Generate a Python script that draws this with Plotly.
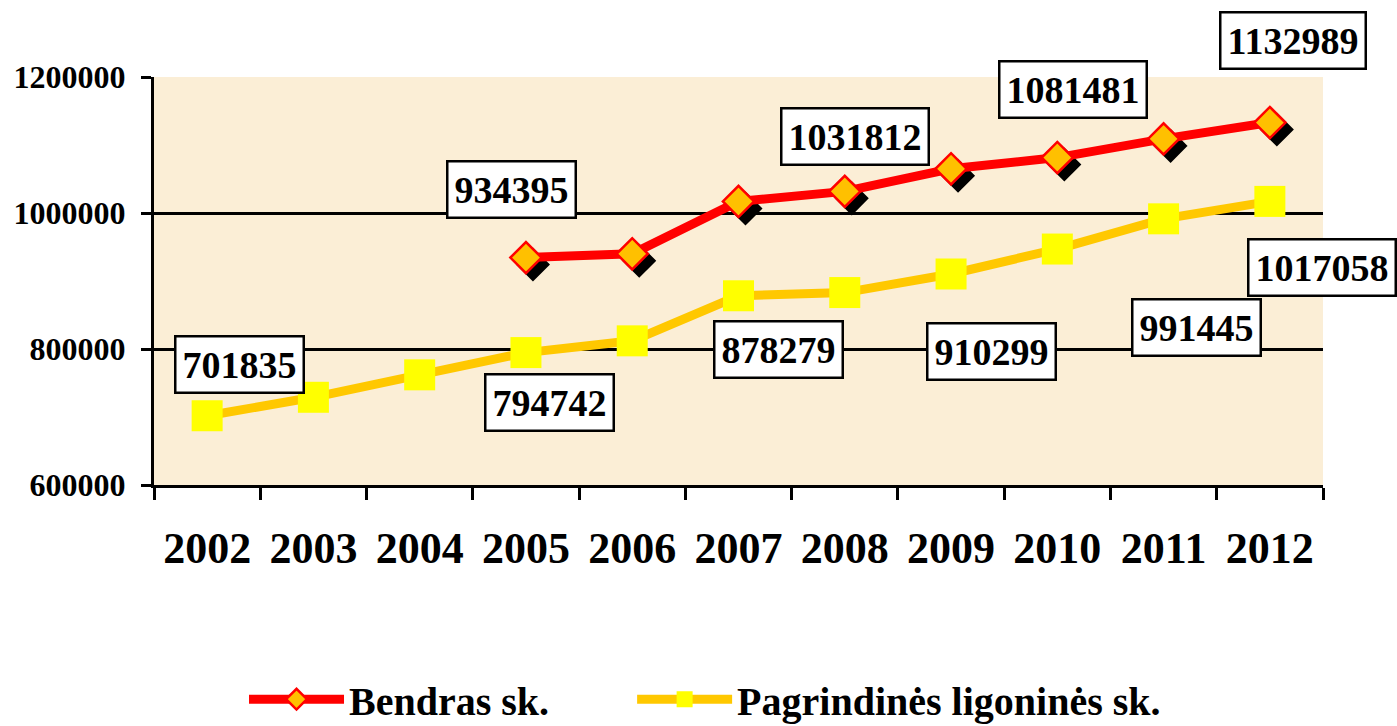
import plotly.graph_objects as go

years = ["2002", "2003", "2004", "2005", "2006", "2007", "2008", "2009", "2010", "2011", "2012"]
bendras = [None, None, None, 934395, 940000, 1017000, 1031812, 1065000, 1081481, 1109000, 1132989]
pagrindines = [701835, 729000, 762000, 794742, 812000, 878279, 883000, 910299, 947000, 991445, 1017058]
y_ticks = [600000, 800000, 1000000, 1200000]

bendras_label_years = ["2005", "2008", "2010", "2012"]
pagr_label_years = ["2002", "2005", "2007", "2009", "2011", "2012"]

# label offsets in pixels (style only)
bendras_offsets = {"2005": (-14, 68), "2008": (10, 55), "2010": (16, 68), "2012": (23, 82)}
pagr_offsets = {"2002": (32, 51), "2005": (24, -50), "2007": (40, -54), "2009": (40, -77),
                "2011": (33, -109), "2012": (52, -66)}

FONT = "Liberation Serif"
W, H = 1397, 726
L, R, T, B = 154, 74, 77, 241
plot_w = W - L - R
plot_h = H - T - B
n = len(years)
ymin, ymax = y_ticks[0], y_ticks[-1]
sh_px = 7
dx_cat = sh_px * n / plot_w
dy_val = sh_px * (ymax - ymin) / plot_h

fig = go.Figure()

fig.add_trace(go.Scatter(
    x=years, y=pagrindines, mode="lines+markers", name="Pagrindinės ligoninės sk.",
    line=dict(color="#FFC800", width=9),
    marker=dict(symbol="square", size=31, color="#FFFF00", line=dict(width=0)),
    xaxis="x", yaxis="y", legend="legend2",
))

# shadow of diamonds
fig.add_trace(go.Scatter(
    x=list(range(n)), y=bendras, mode="markers", showlegend=False, hoverinfo="skip",
    marker=dict(symbol="diamond", size=24, color="black", line=dict(width=2, color="black")),
    xaxis="x2", yaxis="y2",
))

fig.add_trace(go.Scatter(
    x=years, y=bendras, mode="lines+markers", name="Bendras sk.",
    line=dict(color="#FF0000", width=9),
    marker=dict(symbol="diamond", size=24, color="#FFC000", line=dict(width=2.5, color="#FF0000")),
    xaxis="x3", yaxis="y3", legend="legend",
))

label_font = dict(family=FONT, size=38, color="black", weight="bold")
annotations = []
for yr in bendras_label_years:
    i = years.index(yr)
    v = bendras[i]
    ox, oy = bendras_offsets[yr]
    annotations.append(dict(x=i, y=v, xref="x", yref="y", text=str(v), showarrow=False,
                            xshift=ox, yshift=oy, bgcolor="white", bordercolor="black",
                            borderwidth=2.5, borderpad=6, font=label_font))
for yr in pagr_label_years:
    i = years.index(yr)
    v = pagrindines[i]
    ox, oy = pagr_offsets[yr]
    annotations.append(dict(x=i, y=v, xref="x", yref="y", text=str(v), showarrow=False,
                            xshift=ox, yshift=oy, bgcolor="white", bordercolor="black",
                            borderwidth=2.5, borderpad=6, font=label_font))

legend_common = dict(orientation="h", xanchor="left", y=-0.525, yanchor="middle",
                     font=dict(family=FONT, size=40, color="black", weight="bold"),
                     itemwidth=95, bgcolor="rgba(0,0,0,0)")

fig.update_layout(
    width=W, height=H,
    margin=dict(l=L, r=R, t=T, b=B, autoexpand=False),
    paper_bgcolor="white",
    plot_bgcolor="#FBEED6",
    showlegend=True,
    legend=dict(x=0.077, **legend_common),
    legend2=dict(x=0.409, **legend_common),
    xaxis=dict(type="category", categoryorder="array", categoryarray=years,
               range=[-0.5, n - 0.5],
               showline=True, linecolor="black", linewidth=3,
               ticks="outside", tickson="boundaries", ticklen=12, tickwidth=3, tickcolor="black",
               showgrid=False, ticklabelstandoff=22,
               tickfont=dict(family=FONT, size=44, color="black", weight="bold")),
    yaxis=dict(range=[ymin, ymax], tickvals=y_ticks, ticktext=[str(t) for t in y_ticks],
               showline=True, linecolor="black", linewidth=3,
               ticks="outside", ticklen=10, tickwidth=3, tickcolor="black",
               showgrid=True, gridcolor="black", gridwidth=3, zeroline=False,
               ticklabelstandoff=9,
               tickfont=dict(family=FONT, size=32, color="black", weight="bold")),
    xaxis2=dict(overlaying="x", range=[-0.5 - dx_cat, n - 0.5 - dx_cat], visible=False),
    yaxis2=dict(overlaying="y", range=[ymin + dy_val, ymax + dy_val], visible=False),
    xaxis3=dict(overlaying="x", type="category", categoryorder="array", categoryarray=years,
                range=[-0.5, n - 0.5], visible=False),
    yaxis3=dict(overlaying="y", range=[ymin, ymax], visible=False),
    annotations=annotations,
)

fig.write_html("out.html", config={"displayModeBar": False},
               post_script="document.body.style.margin='0';document.body.style.overflow='hidden';")
